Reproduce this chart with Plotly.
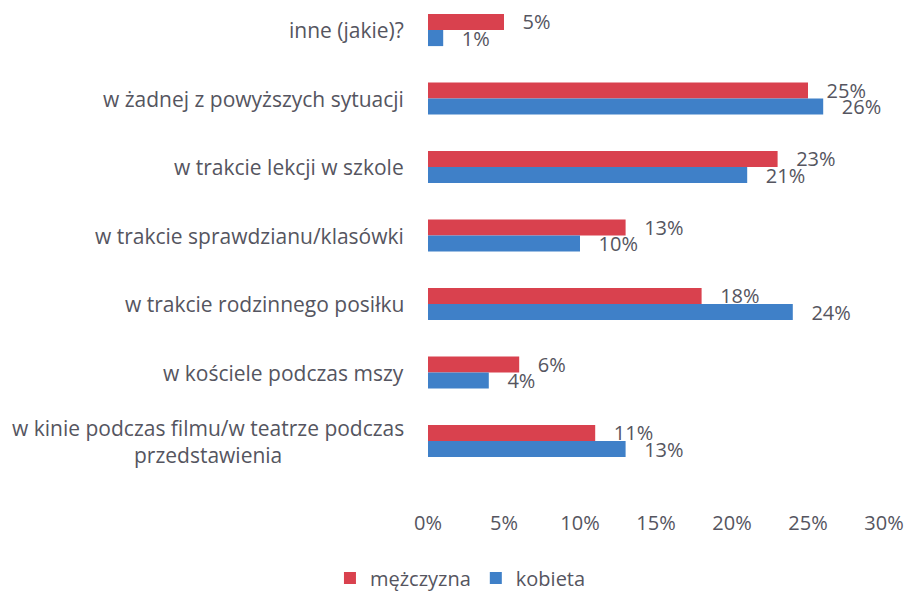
import plotly.graph_objects as go

categories = [
    "inne (jakie)?",
    "w żadnej z powyższych sytuacji",
    "w trakcie lekcji w szkole",
    "w trakcie sprawdzianu/klasówki",
    "w trakcie rodzinnego posiłku",
    "w kościele podczas mszy",
    "w kinie podczas filmu/w teatrze podczas<br>przedstawienia",
]
men = [5, 25, 23, 13, 18, 6, 11]
women = [1, 26, 21, 10, 24, 4, 13]
x_ticks = [0, 5, 10, 15, 20, 25, 30]
x_tick_labels = ["0%", "5%", "10%", "15%", "20%", "25%", "30%"]

FONT = "Open Sans"
GREY = "#555560"
RED = "#D9414E"
BLUE = "#3F80C8"

fig = go.Figure()
for name, vals, color in [("mężczyzna", men, RED), ("kobieta", women, BLUE)]:
    fig.add_trace(go.Bar(
        y=list(range(len(categories))),
        x=vals,
        orientation="h",
        name=name,
        marker=dict(color=color, line=dict(width=0)),
        text=["\u00a0\u00a0\u00a0" + f"{v}%" for v in vals],
        textposition="outside",
        constraintext="none",
        cliponaxis=False,
        hoverinfo="x+name",
        textfont=dict(family=FONT, size=20, color=GREY),
    ))

# category labels, centred per line
for i, cat in enumerate(categories):
    fig.add_annotation(
        x=0, xref="paper", xanchor="right", xshift=-22,
        y=i, yref="y", yanchor="middle",
        text=cat, showarrow=False, align="center",
        font=dict(family=FONT, size=21, color=GREY),
    )

fig.update_layout(
    width=910, height=591,
    margin=dict(l=428, r=26, t=0, b=91),
    paper_bgcolor="white", plot_bgcolor="white",
    barmode="group", bargap=0.53, bargroupgap=0,
    showlegend=True,
    legend=dict(
        orientation="h", xref="container", yref="container",
        x=0.506, xanchor="center", y=0.022, yanchor="middle",
        font=dict(family=FONT, size=20, color=GREY),
        itemwidth=30, traceorder="normal",
    ),
    xaxis=dict(
        range=[0, 30], tickvals=x_ticks, ticktext=x_tick_labels,
        showgrid=False, zeroline=False, showline=False,
        ticks="outside", ticklen=5, tickcolor="white",
        tickfont=dict(family=FONT, size=20, color=GREY),
    ),
    yaxis=dict(
        range=[6.861, -0.438], showticklabels=False,
        showgrid=False, zeroline=False, showline=False,
    ),
)

fig.write_html("out.html")
